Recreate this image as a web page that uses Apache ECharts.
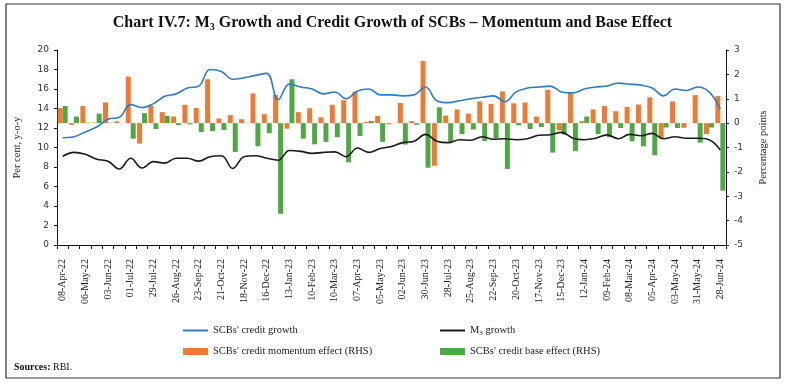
<!DOCTYPE html>
<html>
<head>
<meta charset="utf-8">
<script src="https://cdn.jsdelivr.net/npm/echarts@6/dist/echarts.min.js"></script>
<style>html,body{margin:0;padding:0;background:#fff;}#c{width:785px;height:386px;}</style>
</head>
<body>
<div id="c"></div>
<script>
const categories = ['08-Apr-22','22-Apr-22','06-May-22','20-May-22','03-Jun-22','17-Jun-22','01-Jul-22','15-Jul-22','29-Jul-22','12-Aug-22','26-Aug-22','09-Sep-22','23-Sep-22','07-Oct-22','21-Oct-22','04-Nov-22','18-Nov-22','02-Dec-22','16-Dec-22','30-Dec-22','13-Jan-23','27-Jan-23','10-Feb-23','24-Feb-23','10-Mar-23','24-Mar-23','07-Apr-23','21-Apr-23','05-May-23','19-May-23','02-Jun-23','16-Jun-23','30-Jun-23','14-Jul-23','28-Jul-23','11-Aug-23','25-Aug-23','08-Sep-23','22-Sep-23','06-Oct-23','20-Oct-23','03-Nov-23','17-Nov-23','01-Dec-23','15-Dec-23','29-Dec-23','12-Jan-24','26-Jan-24','09-Feb-24','23-Feb-24','08-Mar-24','22-Mar-24','05-Apr-24','19-Apr-24','03-May-24','17-May-24','31-May-24','14-Jun-24','28-Jun-24'];

const creditGrowth = [11.0,11.1,11.6,12.1,12.9,13.1,14.4,14.1,14.5,15.25,15.5,16.1,16.3,18.0,17.8,17.0,17.15,17.4,17.6,14.9,16.5,16.2,16.0,15.5,15.7,15.0,15.8,16.0,15.4,15.4,15.3,15.4,16.2,14.8,14.6,14.8,15.0,15.15,15.3,14.7,15.7,16.1,16.2,16.3,15.7,15.6,16.0,16.2,16.3,16.6,16.5,16.4,16.1,15.3,16.0,15.85,16.2,15.7,13.95];

const m3Growth = [9.1,9.5,9.3,8.8,8.6,7.8,8.9,7.9,8.55,8.4,8.9,8.9,8.6,9.05,9.15,7.85,9.05,9.15,8.9,8.7,9.7,9.6,9.4,9.5,9.55,9.05,9.95,9.5,9.9,10.1,10.5,10.65,11.35,10.65,10.5,10.8,10.75,11.1,10.85,10.9,10.8,10.9,11.25,11.3,11.55,10.95,10.8,10.95,11.3,10.9,11.35,11.2,11.45,10.9,11.1,10.95,10.95,10.8,9.75];

const momentumEffect = [0.62,-0.07,0.70,0.02,0.85,0.07,1.91,-0.84,0.72,0.45,0.27,0.75,0.62,1.80,0.19,0.33,0.16,1.22,0.37,1.15,-0.23,0.45,0.61,0.24,0.75,0.94,1.29,0.05,0.30,-0.05,0.83,0.08,2.55,-1.75,0.31,0.56,0.39,0.89,0.79,1.30,0.81,0.85,0.27,1.37,-0.30,1.23,0.08,0.56,0.70,0.49,0.66,0.76,1.06,-0.64,0.89,-0.19,1.15,-0.45,1.11];

const baseEffect = [0.70,0.27,0.02,0.39,0.02,0.01,-0.64,0.41,-0.24,0.30,-0.08,-0.05,-0.37,-0.33,-0.28,-1.18,0.01,-0.95,-0.41,-3.72,1.80,-0.64,-0.87,-0.77,-0.58,-1.61,-0.53,0.09,-0.77,0.01,-0.88,-0.07,-1.83,0.65,-0.77,-0.45,-0.26,-0.73,-0.62,-1.88,-0.09,-0.24,-0.16,-1.21,-0.47,-1.15,0.27,-0.45,-0.58,-0.20,-0.75,-0.95,-1.32,-0.18,-0.20,0.01,-0.80,-0.18,-2.77];

const leftTicks = {min: 0, max: 20, interval: 2};
const rightTicks = {min: -5, max: 3, interval: 1};

const serif = 'Liberation Serif';
const sans = 'DejaVu Sans';
const cBlue = '#2f7bc6', cBlack = '#1a1a1a', cOrange = '#ee7a33', cGreen = '#4ea944';

const chart = echarts.init(document.getElementById('c'));
const legendRich = {
  a: {fontFamily: serif, fontSize: 10.5, color: '#222'},
  s: {fontFamily: serif, fontSize: 7, color: '#222', padding: [5, 0, 0, 0]}
};
const legendFmt = n => n === 'M3 growth' ? '{a|M}{s|3}{a| growth}' : '{a|' + n + '}';
function mkLegend(name, left, top, h) {
  return {
    data: [{name: name, icon: 'rect'}], left: left, top: top, padding: 0,
    itemWidth: 25, itemHeight: h, itemGap: 0, formatter: legendFmt,
    textStyle: {rich: legendRich}
  };
}

chart.setOption({
  animation: false,
  backgroundColor: '#fff',
  title: {
    text: '{a|Chart IV.7: M}{s|3}{a| Growth and Credit Growth of SCBs \u2013 Momentum and Base Effect}',
    left: 'center', top: 9,
    textStyle: {
      rich: {
        a: {fontFamily: serif, fontSize: 16, color: '#111'},
        s: {fontFamily: serif, fontSize: 10, color: '#111', padding: [8, 0, 0, 0]}
      }
    }
  },
  grid: {left: 57, right: 59, top: 50, bottom: 141},
  legend: [
    mkLegend("SCBs' credit growth", 183, 325, 2),
    mkLegend("SCBs' credit momentum effect (RHS)", 183, 346, 7),
    mkLegend('M3 growth', 440, 325, 2),
    mkLegend("SCBs' credit base effect (RHS)", 440, 346, 7)
  ],
  xAxis: {
    type: 'category', data: categories, boundaryGap: true,
    axisLine: {onZero: false, lineStyle: {color: '#111', width: 1}},
    axisTick: {show: true, alignWithLabel: false, interval: 0, length: 4, lineStyle: {color: '#111'}},
    axisLabel: {interval: 1, rotate: 90, margin: 14, fontFamily: serif, fontSize: 10, color: '#222'},
    splitLine: {show: false}
  },
  yAxis: [
    {
      type: 'value', min: leftTicks.min, max: leftTicks.max, interval: leftTicks.interval,
      name: 'Per cent, y-o-y', nameLocation: 'middle', nameGap: 34, nameRotate: 90,
      nameTextStyle: {fontFamily: serif, fontSize: 10.5, color: '#222'},
      axisLine: {show: true, lineStyle: {color: '#111'}},
      axisTick: {show: true, length: 3, lineStyle: {color: '#111'}},
      axisLabel: {fontFamily: sans, fontSize: 9, color: '#333', margin: 8},
      splitLine: {show: false}
    },
    {
      type: 'value', min: rightTicks.min, max: rightTicks.max, interval: rightTicks.interval,
      name: 'Percentage points', nameLocation: 'middle', nameGap: 32, nameRotate: 90,
      nameTextStyle: {fontFamily: serif, fontSize: 10.5, color: '#222'},
      axisLine: {show: true, lineStyle: {color: '#111'}},
      axisTick: {show: true, length: 3, lineStyle: {color: '#111'}},
      axisLabel: {fontFamily: sans, fontSize: 9, color: '#333', margin: 8},
      splitLine: {show: false}
    }
  ],
  series: [
    {
      name: "SCBs' credit momentum effect (RHS)", type: 'bar', yAxisIndex: 1,
      data: momentumEffect, itemStyle: {color: cOrange},
      barGap: '0%', barCategoryGap: '12%'
    },
    {
      name: "SCBs' credit base effect (RHS)", type: 'bar', yAxisIndex: 1,
      data: baseEffect, itemStyle: {color: cGreen},
      barGap: '0%', barCategoryGap: '12%'
    },
    {
      name: "SCBs' credit growth", type: 'line', yAxisIndex: 0, data: creditGrowth,
      smooth: 0.4, symbol: 'none', lineStyle: {color: cBlue, width: 1.6}, itemStyle: {color: cBlue}, z: 5
    },
    {
      name: 'M3 growth', type: 'line', yAxisIndex: 0, data: m3Growth,
      smooth: 0.4, symbol: 'none', lineStyle: {color: cBlack, width: 1.6}, itemStyle: {color: cBlack}, z: 5
    }
  ],
  graphic: [
    {
      type: 'rect', shape: {x: 6, y: 4, width: 774, height: 374},
      style: {fill: 'none', stroke: '#333', lineWidth: 1.2}, silent: true
    },
    {
      type: 'text', left: 14, top: 362,
      style: {
        text: '{b|Sources:}{n| RBI.}',
        rich: {
          b: {fontFamily: serif, fontSize: 10, fontWeight: 'bold', fill: '#111'},
          n: {fontFamily: serif, fontSize: 10, fill: '#111'}
        }
      }
    }
  ]
});
</script>
</body>
</html>
